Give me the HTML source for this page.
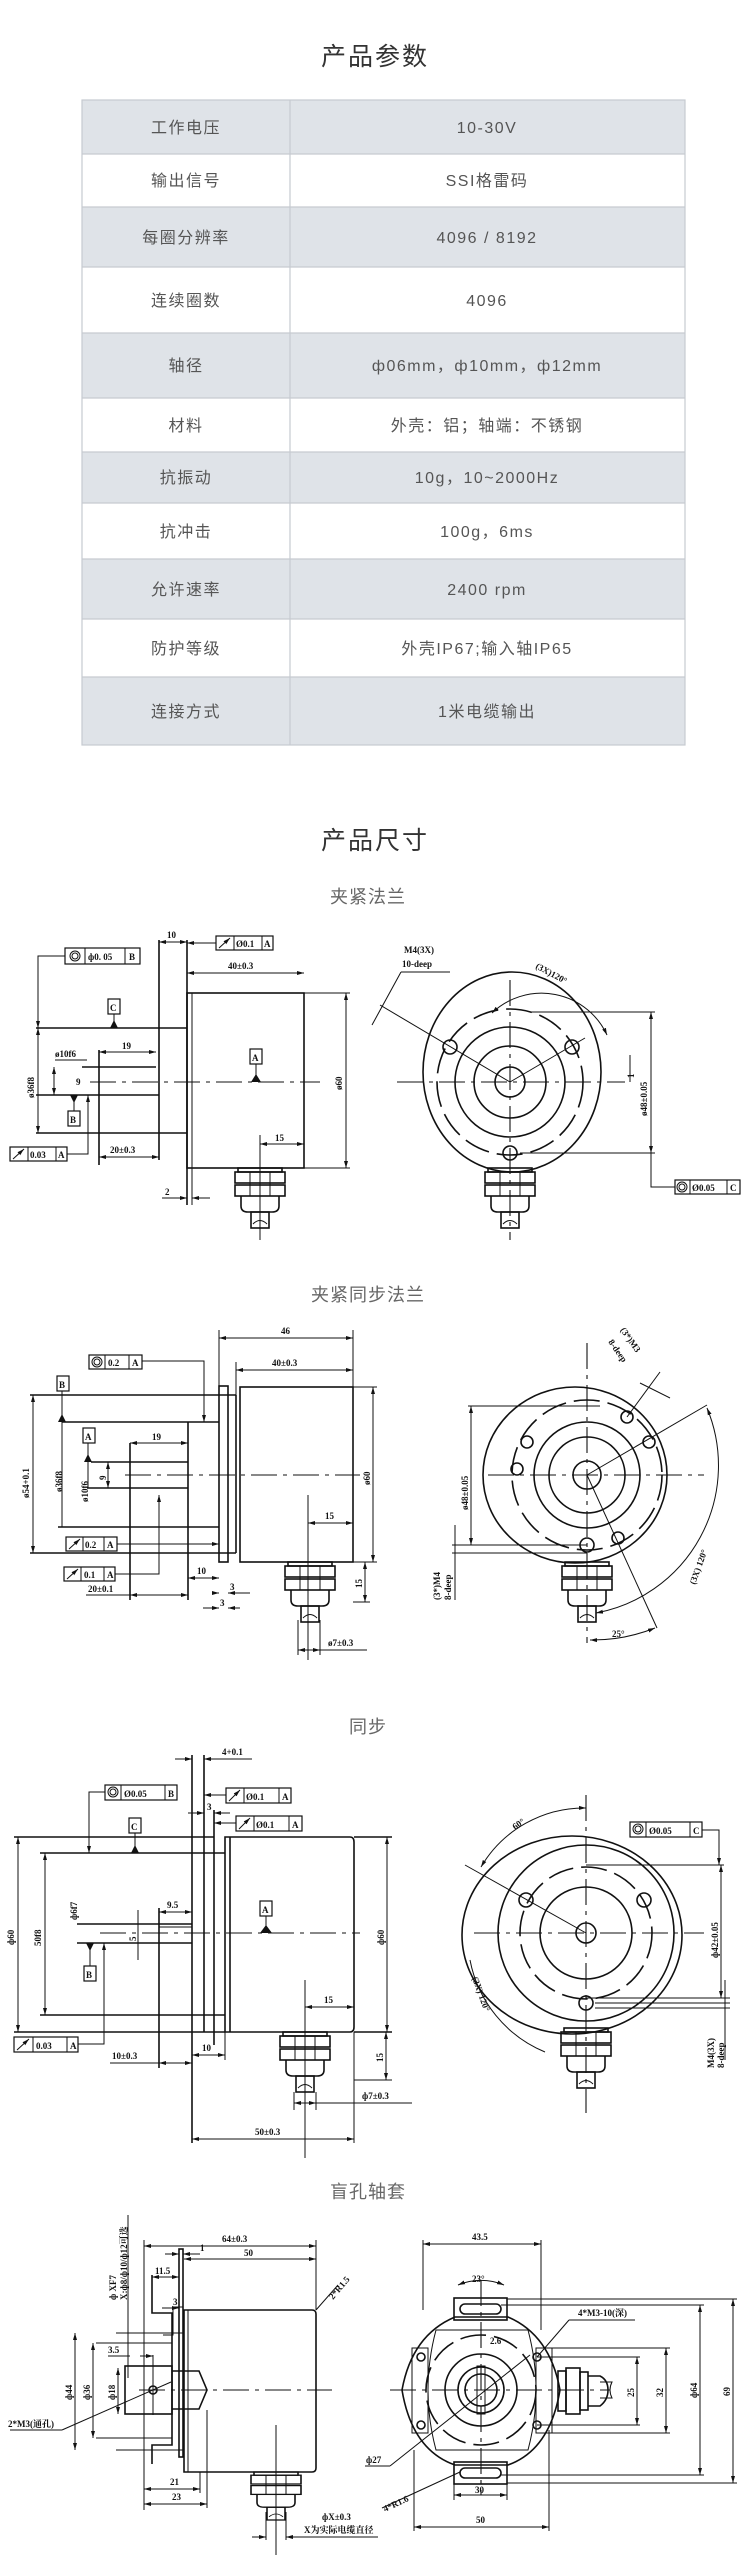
<!DOCTYPE html>
<html><head><meta charset="utf-8">
<style>
html,body{margin:0;padding:0;background:#fff;}
svg{display:block;}
.l{stroke:#111;stroke-width:1.6;fill:none;}
.t{stroke:#111;stroke-width:1;fill:none;}
.c{stroke:#111;stroke-width:1.1;fill:none;stroke-dasharray:26 6 4 6;}
.dsh{stroke:#111;stroke-width:1.6;fill:none;stroke-dasharray:26 8;}
.dm{stroke:#111;stroke-width:1;fill:none;marker-start:url(#a);marker-end:url(#a);}
.ar{stroke:#111;stroke-width:1;fill:none;marker-end:url(#a);}
.tx{font-family:"Liberation Serif","Noto Serif CJK SC",serif;font-size:9px;font-weight:bold;fill:#111;}
.tb{font-family:"Liberation Sans","Noto Sans CJK SC",sans-serif;font-size:16px;fill:#555;text-anchor:middle;letter-spacing:1.5px;}
.ttl{font-family:"Liberation Sans","Noto Sans CJK SC",sans-serif;font-size:25px;fill:#333;text-anchor:middle;letter-spacing:2px;}
.sub{font-family:"Liberation Sans","Noto Sans CJK SC",sans-serif;font-size:18px;fill:#666;text-anchor:middle;letter-spacing:1px;}
.fr{fill:#fff;stroke:#111;stroke-width:1.2;}
</style></head><body>
<svg width="750" height="2567" viewBox="0 0 750 2567" xmlns="http://www.w3.org/2000/svg">
<defs>
<marker id="a" markerWidth="7" markerHeight="6" refX="7" refY="3" orient="auto-start-reverse" markerUnits="userSpaceOnUse"><path d="M0,1 L7,3 L0,5z" fill="#111"/></marker>
<g id="gl">
<rect x="-22" y="0" width="44" height="4" class="l"/>
<rect x="-25" y="4" width="50" height="11" class="l"/>
<rect x="-25" y="17" width="50" height="11" class="l"/>
<line x1="-10" y1="4" x2="-10" y2="28" class="t"/><line x1="10" y1="4" x2="10" y2="28" class="t"/>
<path d="M-19 28 V38 Q-19 44 -12 44 H12 Q19 44 19 38 V28" class="l"/>
<rect x="-9" y="44" width="18" height="16" class="l"/>
<path d="M-7 56 Q0 49 7 56" class="t"/>
</g>
</defs>

<!-- ===== Title & Table ===== -->
<text x="375" y="65" class="ttl">产品参数</text>
<rect x="82" y="100" width="603" height="54" fill="#dfe3e8"/>
<rect x="82" y="207" width="603" height="60" fill="#dfe3e8"/>
<rect x="82" y="333" width="603" height="65" fill="#dfe3e8"/>
<rect x="82" y="452" width="603" height="51" fill="#dfe3e8"/>
<rect x="82" y="559" width="603" height="60" fill="#dfe3e8"/>
<rect x="82" y="677" width="603" height="68" fill="#dfe3e8"/>
<g stroke="#c6cad0" stroke-width="1.2" fill="none">
<rect x="82" y="100" width="603" height="645"/>
<line x1="290" y1="100" x2="290" y2="745"/>
<line x1="82" y1="154" x2="685" y2="154"/><line x1="82" y1="207" x2="685" y2="207"/>
<line x1="82" y1="267" x2="685" y2="267"/><line x1="82" y1="333" x2="685" y2="333"/>
<line x1="82" y1="398" x2="685" y2="398"/><line x1="82" y1="452" x2="685" y2="452"/>
<line x1="82" y1="503" x2="685" y2="503"/><line x1="82" y1="559" x2="685" y2="559"/>
<line x1="82" y1="619" x2="685" y2="619"/><line x1="82" y1="677" x2="685" y2="677"/>
</g>
<g class="tb">
<text x="186" y="133">工作电压</text><text x="487" y="133">10-30V</text>
<text x="186" y="186">输出信号</text><text x="487" y="186">SSI格雷码</text>
<text x="186" y="243">每圈分辨率</text><text x="487" y="243">4096 / 8192</text>
<text x="186" y="306">连续圈数</text><text x="487" y="306">4096</text>
<text x="186" y="371">轴径</text><text x="487" y="371">ф06mm，ф10mm，ф12mm</text>
<text x="186" y="431">材料</text><text x="487" y="431">外壳：铝；轴端：不锈钢</text>
<text x="186" y="483">抗振动</text><text x="487" y="483">10g，10~2000Hz</text>
<text x="186" y="537">抗冲击</text><text x="487" y="537">100g，6ms</text>
<text x="186" y="595">允许速率</text><text x="487" y="595">2400 rpm</text>
<text x="186" y="654">防护等级</text><text x="487" y="654">外壳IP67;输入轴IP65</text>
<text x="186" y="717">连接方式</text><text x="487" y="717">1米电缆输出</text>
</g>

<text x="375" y="849" class="ttl">产品尺寸</text>

<!-- ===== Section 1: 夹紧法兰 ===== -->
<text x="368" y="903" class="sub">夹紧法兰</text>
<g>
<rect x="187" y="993" width="117" height="175" class="l"/>
<line x1="192" y1="993" x2="192" y2="1168" class="t"/>
<line x1="187" y1="940" x2="187" y2="1205" class="l"/>
<line x1="192" y1="1168" x2="192" y2="1205" class="t"/>
<line x1="36" y1="1028" x2="187" y2="1028" class="l"/>
<line x1="36" y1="1133" x2="187" y2="1133" class="l"/>
<line x1="159" y1="940" x2="159" y2="1160" class="l"/>
<line x1="82" y1="1067" x2="156" y2="1067" class="l"/>
<line x1="36" y1="1095" x2="159" y2="1095" class="l"/>
<line x1="99" y1="1050" x2="99" y2="1165" class="l"/>
<line x1="90" y1="1082" x2="320" y2="1082" class="c"/>
<line x1="38" y1="1028" x2="38" y2="1133" class="dm"/>
<text transform="translate(34,1098) rotate(-90)" class="tx">ø36f8</text>
<line x1="55" y1="1060" x2="87" y2="1060" class="t"/><text x="55" y="1057" class="tx" font-size="8">ø10f6</text>
<line x1="54" y1="1067" x2="54" y2="1095" class="dm"/><text x="76" y="1085" class="tx">9</text>
<line x1="99" y1="1052" x2="156" y2="1052" class="dm"/><text x="122" y="1049" class="tx">19</text>
<line x1="187" y1="973" x2="304" y2="973" class="dm"/><text x="228" y="969" class="tx">40±0.3</text>
<line x1="304" y1="993" x2="350" y2="993" class="t"/><line x1="304" y1="1168" x2="350" y2="1168" class="t"/>
<line x1="346" y1="993" x2="346" y2="1168" class="dm"/><text transform="translate(342,1090) rotate(-90)" class="tx">ø60</text>
<line x1="159" y1="942" x2="187" y2="942" class="dm"/><text x="167" y="938" class="tx">10</text>
<line x1="99" y1="1157" x2="159" y2="1157" class="dm"/><text x="110" y="1153" class="tx">20±0.3</text>
<line x1="162" y1="1198" x2="187" y2="1198" class="ar"/><line x1="210" y1="1198" x2="192" y2="1198" class="ar"/><text x="165" y="1195" class="tx" font-size="11">2</text>
<line x1="260" y1="1144" x2="304" y2="1144" class="dm"/><text x="275" y="1141" class="tx" font-size="14">15</text>
<line x1="260" y1="1135" x2="260" y2="1240" class="t"/>
<use href="#gl" transform="translate(260,1168)"/>
<rect x="108" y="999" width="12" height="15" class="fr"/><text x="110" y="1011" class="tx">C</text>
<line x1="114" y1="1014" x2="114" y2="1028" class="t"/><path d="M110 1028 L118 1028 L114 1020z" fill="#111"/>
<rect x="250" y="1049" width="12" height="15" class="fr"/><text x="252" y="1061" class="tx">A</text>
<line x1="256" y1="1064" x2="256" y2="1082" class="t"/><path d="M251 1082 L261 1082 L256 1074z" fill="#111"/>
<rect x="68" y="1111" width="12" height="15" class="fr"/><text x="70" y="1123" class="tx">B</text>
<line x1="74" y1="1095" x2="74" y2="1111" class="t"/><path d="M70 1095 L78 1095 L74 1103z" fill="#111"/>
<rect x="65" y="948" width="75" height="16" class="fr"/><line x1="85" y1="948" x2="85" y2="964" class="t"/><line x1="125" y1="948" x2="125" y2="964" class="t"/>
<circle cx="75" cy="956" r="5" class="t"/><circle cx="75" cy="956" r="3" class="t"/><text x="88" y="960" class="tx">ф0. 05</text><text x="129" y="960" class="tx">B</text>
<path d="M65 956 H38 V1028" class="ar"/>
<rect x="216" y="936" width="57" height="14" class="fr"/><line x1="234" y1="936" x2="234" y2="950" class="t"/><line x1="262" y1="936" x2="262" y2="950" class="t"/>
<line x1="219" y1="948" x2="230" y2="938" class="ar"/><text x="236" y="947" class="tx">Ø0.1</text><text x="264" y="947" class="tx">A</text>
<line x1="216" y1="943" x2="187" y2="943" class="ar"/>
<rect x="10" y="1147" width="57" height="14" class="fr"/><line x1="28" y1="1147" x2="28" y2="1161" class="t"/><line x1="56" y1="1147" x2="56" y2="1161" class="t"/>
<line x1="13" y1="1159" x2="24" y2="1149" class="ar"/><text x="30" y="1158" class="tx">0.03</text><text x="58" y="1158" class="tx">A</text>
<path d="M67 1154 H88 V1095" class="ar"/>
</g>
<g>
<ellipse cx="512" cy="1072" rx="89" ry="100" class="l"/>
<circle cx="510" cy="1082" r="73" class="dsh"/>
<circle cx="510" cy="1082" r="55" class="l"/>
<circle cx="510" cy="1082" r="36" class="l"/>
<circle cx="510" cy="1082" r="15" class="l"/>
<line x1="397" y1="1082" x2="625" y2="1082" class="c"/>
<line x1="510" y1="980" x2="510" y2="1240" class="c"/>
<circle cx="450" cy="1047" r="7" class="l"/><circle cx="572" cy="1047" r="7" class="l"/><circle cx="510" cy="1153" r="7" class="l"/>
<line x1="510" y1="1082" x2="380" y2="1005" class="t"/><line x1="510" y1="1082" x2="585" y2="1038" class="t"/>
<line x1="372" y1="1025" x2="401" y2="972" class="t"/><line x1="401" y1="972" x2="450" y2="972" class="t"/>
<text x="404" y="953" class="tx">M4(3X)</text><text x="402" y="967" class="tx">10-deep</text>
<path d="M492 1013 A 72 72 0 0 1 607 1035" class="dm"/>
<text transform="translate(535,968) rotate(28)" class="tx">(3X)120°</text>
<line x1="530" y1="1012" x2="655" y2="1012" class="t"/><line x1="520" y1="1153" x2="655" y2="1153" class="t"/>
<line x1="651" y1="1012" x2="651" y2="1153" class="dm"/>
<text transform="translate(647,1116) rotate(-90)" class="tx">ø48±0.05</text>
<line x1="630" y1="1055" x2="630" y2="1082" class="t"/><text transform="translate(634,1078) rotate(-90)" class="tx">1</text>
<path d="M651 1153 V1187 H675" class="t"/>
<rect x="675" y="1180" width="65" height="14" class="fr"/><line x1="690" y1="1180" x2="690" y2="1194" class="t"/><line x1="727" y1="1180" x2="727" y2="1194" class="t"/>
<circle cx="682" cy="1187" r="5" class="t"/><circle cx="682" cy="1187" r="3" class="t"/><text x="692" y="1191" class="tx">Ø0.05</text><text x="730" y="1191" class="tx">C</text>
<use href="#gl" transform="translate(510,1168)"/>
</g>

<!-- ===== Section 2 ===== -->
<text x="368" y="1301" class="sub">夹紧同步法兰</text>
<g>
<rect x="219" y="1386" width="9" height="176" class="l"/>
<rect x="240" y="1387" width="113" height="175" class="l"/>
<line x1="236" y1="1395" x2="236" y2="1553" class="l"/>
<line x1="219" y1="1330" x2="219" y2="1386" class="t"/><line x1="236" y1="1362" x2="236" y2="1395" class="t"/>
<line x1="353" y1="1330" x2="353" y2="1387" class="t"/>
<line x1="30" y1="1395" x2="236" y2="1395" class="l"/><line x1="30" y1="1553" x2="236" y2="1553" class="l"/>
<line x1="62" y1="1422" x2="219" y2="1422" class="l"/><line x1="58" y1="1527" x2="219" y2="1527" class="l"/>
<line x1="188" y1="1422" x2="188" y2="1600" class="l"/>
<line x1="91" y1="1462" x2="188" y2="1462" class="l"/><line x1="87" y1="1488" x2="188" y2="1488" class="l"/>
<line x1="130" y1="1443" x2="130" y2="1600" class="l"/>
<line x1="125" y1="1475" x2="360" y2="1475" class="c"/>
<line x1="33" y1="1395" x2="33" y2="1553" class="dm"/><text transform="translate(29,1498) rotate(-90)" class="tx" font-size="10">ø54+0.1</text>
<line x1="62" y1="1422" x2="62" y2="1527" class="t"/><text transform="translate(62,1492) rotate(-90)" class="tx" font-size="10">ø36f8</text>
<line x1="88" y1="1462" x2="88" y2="1488" class="t"/><text transform="translate(88,1502) rotate(-90)" class="tx" font-size="10">ø10f6</text>
<line x1="108" y1="1462" x2="108" y2="1488" class="dm"/><text transform="translate(106,1480) rotate(-90)" class="tx">9</text>
<line x1="130" y1="1443" x2="188" y2="1443" class="dm"/><text x="152" y="1440" class="tx">19</text>
<line x1="219" y1="1338" x2="353" y2="1338" class="dm"/><text x="281" y="1334" class="tx">46</text>
<line x1="236" y1="1370" x2="353" y2="1370" class="dm"/><text x="272" y="1366" class="tx">40±0.3</text>
<line x1="353" y1="1387" x2="377" y2="1387" class="t"/><line x1="353" y1="1562" x2="377" y2="1562" class="t"/>
<line x1="373" y1="1387" x2="373" y2="1562" class="dm"/><text transform="translate(370,1485) rotate(-90)" class="tx">ø60</text>
<line x1="308" y1="1495" x2="308" y2="1660" class="t"/>
<line x1="308" y1="1523" x2="353" y2="1523" class="dm"/><text x="325" y="1519" class="tx">15</text>
<line x1="188" y1="1578" x2="219" y2="1578" class="dm"/><text x="197" y="1574" class="tx">10</text>
<line x1="130" y1="1595" x2="188" y2="1595" class="dm"/><line x1="86" y1="1595" x2="130" y2="1595" class="t"/><text x="88" y="1592" class="tx">20±0.1</text>
<line x1="212" y1="1593" x2="219" y2="1593" class="ar"/><line x1="250" y1="1593" x2="228" y2="1593" class="ar"/><text x="230" y="1590" class="tx">3</text>
<line x1="203" y1="1608" x2="219" y2="1608" class="ar"/><line x1="240" y1="1608" x2="228" y2="1608" class="ar"/><text x="220" y="1606" class="tx">3</text>
<use href="#gl" transform="translate(310,1562)"/>
<line x1="298" y1="1620" x2="298" y2="1655" class="t"/><line x1="320" y1="1620" x2="320" y2="1655" class="t"/>
<line x1="298" y1="1650" x2="320" y2="1650" class="dm"/><line x1="320" y1="1650" x2="367" y2="1650" class="t"/><text x="328" y="1646" class="tx">ø7±0.3</text>
<line x1="353" y1="1602" x2="370" y2="1602" class="t"/>
<line x1="365" y1="1562" x2="365" y2="1602" class="dm"/><text transform="translate(362,1588) rotate(-90)" class="tx">15</text>
<rect x="89" y="1355" width="53" height="14" class="fr"/><line x1="105" y1="1355" x2="105" y2="1369" class="t"/><line x1="129" y1="1355" x2="129" y2="1369" class="t"/>
<circle cx="97" cy="1362" r="5" class="t"/><circle cx="97" cy="1362" r="3" class="t"/><text x="108" y="1366" class="tx">0.2</text><text x="132" y="1366" class="tx">A</text>
<path d="M142 1361 H204 V1422" class="ar"/>
<rect x="57" y="1376" width="12" height="15" class="fr"/><text x="59" y="1388" class="tx">B</text>
<line x1="62" y1="1391" x2="62" y2="1422" class="t"/><path d="M58 1422 L66 1422 L62 1414z" fill="#111"/>
<rect x="83" y="1428" width="12" height="15" class="fr"/><text x="85" y="1440" class="tx">A</text>
<line x1="88" y1="1443" x2="88" y2="1462" class="t"/><path d="M84 1462 L92 1462 L88 1454z" fill="#111"/>
<rect x="66" y="1537" width="51" height="14" class="fr"/><line x1="83" y1="1537" x2="83" y2="1551" class="t"/><line x1="104" y1="1537" x2="104" y2="1551" class="t"/>
<line x1="69" y1="1549" x2="80" y2="1539" class="ar"/><text x="85" y="1548" class="tx">0.2</text><text x="107" y="1548" class="tx">A</text>
<line x1="117" y1="1544" x2="219" y2="1544" class="ar"/>
<rect x="64" y="1567" width="51" height="14" class="fr"/><line x1="81" y1="1567" x2="81" y2="1581" class="t"/><line x1="104" y1="1567" x2="104" y2="1581" class="t"/>
<line x1="67" y1="1579" x2="78" y2="1569" class="ar"/><text x="84" y="1578" class="tx">0.1</text><text x="107" y="1578" class="tx">A</text>
<path d="M115 1574 H159 V1495" class="ar"/>
</g>
<g>
<ellipse cx="575" cy="1475" rx="92" ry="88" class="l"/>
<circle cx="587" cy="1475" r="75" class="dsh"/>
<circle cx="587" cy="1475" r="53" class="l"/>
<circle cx="587" cy="1475" r="38" class="l"/>
<circle cx="587" cy="1475" r="14" class="l"/>
<line x1="488" y1="1475" x2="704" y2="1475" class="c"/>
<line x1="587" y1="1343" x2="587" y2="1643" class="c"/>
<circle cx="627" cy="1417" r="6" class="l"/><circle cx="649" cy="1442" r="6" class="l"/><circle cx="527" cy="1442" r="6" class="l"/>
<circle cx="517" cy="1469" r="6" class="l"/><circle cx="587" cy="1545" r="7" class="l"/><circle cx="618" cy="1538" r="6" class="l"/>
<line x1="587" y1="1475" x2="707" y2="1405" class="t"/><line x1="587" y1="1475" x2="657" y2="1628" class="t"/>
<path d="M707 1408 A 150 150 0 0 1 596 1613" class="dm"/>
<text transform="translate(695,1585) rotate(-70)" class="tx">(3X) 120°</text>
<path d="M590 1640 A 170 170 0 0 0 655 1628" class="dm"/><text x="612" y="1637" class="tx">25°</text>
<line x1="627" y1="1417" x2="660" y2="1372" class="t"/><line x1="640" y1="1383" x2="670" y2="1398" class="t"/>
<text transform="translate(620,1330) rotate(55)" class="tx">(3*)M3</text>
<text transform="translate(608,1342) rotate(55)" class="tx">8-deep</text>
<line x1="468" y1="1406" x2="600" y2="1406" class="t"/><line x1="452" y1="1545" x2="587" y2="1545" class="t"/><line x1="452" y1="1553" x2="587" y2="1553" class="t"/>
<line x1="471" y1="1406" x2="471" y2="1545" class="dm"/><text transform="translate(468,1510) rotate(-90)" class="tx">ø48±0.05</text>
<line x1="455" y1="1525" x2="455" y2="1600" class="t"/>
<text transform="translate(440,1600) rotate(-90)" class="tx">(3*)M4</text>
<text transform="translate(451,1600) rotate(-90)" class="tx">8-deep</text>
<use href="#gl" transform="translate(587,1562)"/>
</g>

<!-- ===== Section 3 ===== -->
<text x="368" y="1733" class="sub">同步</text>
<g>
<path d="M225 1837 H350 Q354 1837 354 1842 V2027 Q354 2032 350 2032 H225 Z" class="l"/>
<line x1="230" y1="1837" x2="230" y2="2032" class="l"/>
<line x1="192" y1="1755" x2="192" y2="2143" class="l"/>
<line x1="204" y1="1755" x2="204" y2="2032" class="l"/>
<line x1="214" y1="1810" x2="214" y2="2045" class="l"/>
<line x1="14" y1="1837" x2="214" y2="1837" class="l"/><line x1="14" y1="2032" x2="225" y2="2032" class="l"/>
<line x1="354" y1="1837" x2="392" y2="1837" class="l"/><line x1="354" y1="2032" x2="392" y2="2032" class="l"/>
<line x1="40" y1="1853" x2="225" y2="1853" class="l"/><line x1="40" y1="2015" x2="225" y2="2015" class="l"/>
<line x1="77" y1="1924" x2="192" y2="1924" class="l"/><line x1="77" y1="1943" x2="192" y2="1943" class="l"/>
<line x1="159" y1="1908" x2="159" y2="2068" class="l"/>
<line x1="159" y1="1927" x2="192" y2="1927" class="t"/>
<line x1="100" y1="1933" x2="360" y2="1933" class="c"/>
<line x1="18" y1="1837" x2="18" y2="2032" class="dm"/><text transform="translate(14,1945) rotate(-90)" class="tx">ф60</text>
<line x1="45" y1="1853" x2="45" y2="2015" class="dm"/><text transform="translate(41,1946) rotate(-90)" class="tx">50f8</text>
<text transform="translate(77,1920) rotate(-90)" class="tx">ф6f7</text>
<line x1="138" y1="1910" x2="138" y2="1960" class="t"/><text transform="translate(136,1941) rotate(-90)" class="tx">5</text>
<line x1="159" y1="1912" x2="192" y2="1912" class="dm"/><text x="167" y="1908" class="tx">9.5</text>
<line x1="387" y1="1837" x2="387" y2="2032" class="dm"/><text transform="translate(384,1945) rotate(-90)" class="tx">ф60</text>
<line x1="175" y1="1759" x2="192" y2="1759" class="ar"/><line x1="230" y1="1759" x2="204" y2="1759" class="ar"/><line x1="204" y1="1759" x2="252" y2="1759" class="t"/><text x="222" y="1755" class="tx">4+0.1</text>
<line x1="188" y1="1813" x2="204" y2="1813" class="ar"/><line x1="230" y1="1813" x2="214" y2="1813" class="ar"/><text x="207" y="1810" class="tx">3</text>
<line x1="305" y1="1980" x2="305" y2="2158" class="t"/>
<line x1="305" y1="2007" x2="354" y2="2007" class="dm"/><text x="324" y="2003" class="tx">15</text>
<line x1="192" y1="2055" x2="225" y2="2055" class="dm"/><line x1="225" y1="2032" x2="225" y2="2060" class="t"/><text x="202" y="2051" class="tx">10</text>
<line x1="159" y1="2063" x2="192" y2="2063" class="dm"/><line x1="110" y1="2063" x2="159" y2="2063" class="t"/><text x="112" y="2059" class="tx" font-size="10">10±0.3</text>
<line x1="192" y1="2139" x2="354" y2="2139" class="dm"/><line x1="354" y1="2032" x2="354" y2="2143" class="t"/><text x="255" y="2135" class="tx">50±0.3</text>
<use href="#gl" transform="translate(305,2032)"/>
<line x1="294" y1="2092" x2="294" y2="2110" class="t"/><line x1="316" y1="2092" x2="316" y2="2110" class="t"/>
<line x1="294" y1="2103" x2="316" y2="2103" class="dm"/><line x1="316" y1="2103" x2="412" y2="2103" class="t"/><text x="362" y="2099" class="tx" font-size="11">ф7±0.3</text>
<line x1="354" y1="2080" x2="392" y2="2080" class="t"/>
<line x1="386" y1="2032" x2="386" y2="2080" class="dm"/><text transform="translate(383,2062) rotate(-90)" class="tx">15</text>
<rect x="105" y="1785" width="72" height="15" class="fr"/><line x1="121" y1="1785" x2="121" y2="1800" class="t"/><line x1="165" y1="1785" x2="165" y2="1800" class="t"/>
<circle cx="113" cy="1792" r="5" class="t"/><circle cx="113" cy="1792" r="3" class="t"/><text x="124" y="1797" class="tx">Ø0.05</text><text x="168" y="1797" class="tx">B</text>
<path d="M105 1792 H89 V1853" class="ar"/>
<rect x="226" y="1788" width="65" height="15" class="fr"/><line x1="244" y1="1788" x2="244" y2="1803" class="t"/><line x1="279" y1="1788" x2="279" y2="1803" class="t"/>
<line x1="229" y1="1801" x2="240" y2="1790" class="ar"/><text x="246" y="1800" class="tx">Ø0.1</text><text x="282" y="1800" class="tx">A</text>
<line x1="226" y1="1795" x2="204" y2="1795" class="ar"/>
<rect x="236" y="1816" width="66" height="15" class="fr"/><line x1="254" y1="1816" x2="254" y2="1831" class="t"/><line x1="289" y1="1816" x2="289" y2="1831" class="t"/>
<line x1="239" y1="1829" x2="250" y2="1818" class="ar"/><text x="256" y="1828" class="tx">Ø0.1</text><text x="292" y="1828" class="tx">A</text>
<line x1="236" y1="1823" x2="214" y2="1823" class="ar"/>
<rect x="129" y="1818" width="12" height="15" class="fr"/><text x="131" y="1830" class="tx">C</text>
<line x1="135" y1="1833" x2="135" y2="1853" class="t"/><path d="M131 1853 L139 1853 L135 1845z" fill="#111"/>
<rect x="260" y="1901" width="12" height="15" class="fr"/><text x="262" y="1913" class="tx">A</text>
<line x1="266" y1="1916" x2="266" y2="1933" class="t"/><path d="M260 1933 L272 1933 L266 1925z" fill="#111"/>
<rect x="84" y="1966" width="12" height="15" class="fr"/><text x="86" y="1978" class="tx">B</text>
<line x1="90" y1="1943" x2="90" y2="1966" class="t"/><path d="M86 1943 L94 1943 L90 1951z" fill="#111"/>
<rect x="14" y="2037" width="64" height="15" class="fr"/><line x1="33" y1="2037" x2="33" y2="2052" class="t"/><line x1="67" y1="2037" x2="67" y2="2052" class="t"/>
<line x1="17" y1="2050" x2="29" y2="2039" class="ar"/><text x="36" y="2049" class="tx">0.03</text><text x="70" y="2049" class="tx">A</text>
<path d="M78 2044 H104 V1943" class="ar"/>
</g>
<g>
<ellipse cx="572" cy="1935" rx="110" ry="99" class="l"/>
<circle cx="586" cy="1933" r="88" class="l"/>
<circle cx="586" cy="1933" r="66" class="dsh"/>
<circle cx="586" cy="1933" r="46" class="l"/>
<circle cx="586" cy="1933" r="10" class="l"/>
<line x1="474" y1="1933" x2="704" y2="1933" class="c"/>
<line x1="586" y1="1795" x2="586" y2="2113" class="c"/>
<circle cx="526" cy="1900" r="7" class="l"/><circle cx="644" cy="1900" r="7" class="l"/><circle cx="586" cy="2003" r="7" class="l"/>
<line x1="586" y1="1933" x2="465" y2="1865" class="t"/>
<path d="M481 1867 A 120 120 0 0 1 586 1808" class="dm"/><text transform="translate(515,1830) rotate(-35)" class="tx">60°</text>
<path d="M470 1960 A 125 125 0 0 0 545 2052" class="t"/>
<text transform="translate(472,1978) rotate(70)" class="tx">(3X) 120°</text>
<rect x="630" y="1822" width="72" height="15" class="fr"/><line x1="646" y1="1822" x2="646" y2="1837" class="t"/><line x1="690" y1="1822" x2="690" y2="1837" class="t"/>
<circle cx="638" cy="1829" r="5" class="t"/><circle cx="638" cy="1829" r="3" class="t"/><text x="649" y="1834" class="tx">Ø0.05</text><text x="693" y="1834" class="tx">C</text>
<path d="M702 1830 H719 V1865" class="ar"/>
<line x1="586" y1="1865" x2="724" y2="1865" class="t"/><line x1="586" y1="1998" x2="730" y2="1998" class="t"/>
<line x1="595" y1="2003" x2="730" y2="2003" class="t"/><line x1="595" y1="2008" x2="730" y2="2008" class="t"/>
<line x1="721" y1="1865" x2="721" y2="1998" class="dm"/><text transform="translate(718,1958) rotate(-90)" class="tx">ф42±0.05</text>
<line x1="725" y1="1980" x2="725" y2="2060" class="t"/>
<text transform="translate(714,2068) rotate(-90)" class="tx">M4(3X)</text>
<text transform="translate(724,2068) rotate(-90)" class="tx">8-deep</text>
<use href="#gl" transform="translate(586,2028)"/>
</g>

<!-- ===== Section 4 ===== -->
<text x="368" y="2198" class="sub">盲孔轴套</text>
<g>
<path d="M184 2310 H312 Q316 2310 316 2314 V2468 Q316 2472 312 2472 H184 Z" class="l"/>
<line x1="188" y1="2310" x2="188" y2="2472" class="t"/>
<rect x="179" y="2249" width="4" height="208" class="l"/>
<path d="M183 2307 H173 V2335 H163" class="t"/>
<path d="M152 2275 V2313 H172 V2327" class="l"/>
<path d="M152 2464 V2445 H172 V2440" class="l"/>
<line x1="172" y1="2327" x2="172" y2="2440" class="l"/>
<line x1="144" y1="2240" x2="144" y2="2510" class="t"/>
<line x1="128" y1="2215" x2="128" y2="2378" class="t"/>
<rect x="125" y="2366" width="47" height="48" class="l"/>
<path d="M172 2371 H199 L207 2390 L199 2409 H172" class="l"/>
<line x1="116" y1="2333" x2="183" y2="2333" class="t"/><line x1="116" y1="2450" x2="183" y2="2450" class="t"/>
<line x1="96" y1="2343" x2="172" y2="2343" class="t"/><line x1="96" y1="2438" x2="172" y2="2438" class="t"/>
<line x1="75" y1="2333" x2="75" y2="2450" class="dm"/><text transform="translate(72,2400) rotate(-90)" class="tx">ф44</text>
<line x1="93" y1="2343" x2="93" y2="2438" class="dm"/><text transform="translate(90,2400) rotate(-90)" class="tx">ф36</text>
<line x1="118" y1="2368" x2="118" y2="2414" class="dm"/><text transform="translate(115,2400) rotate(-90)" class="tx">ф18</text>
<line x1="139" y1="2390" x2="332" y2="2390" class="c"/>
<circle cx="153" cy="2390" r="4" class="l"/><line x1="153" y1="2355" x2="153" y2="2415" class="t"/>
<line x1="171" y1="2382" x2="62" y2="2430" class="t"/><line x1="10" y1="2430" x2="62" y2="2430" class="t"/>
<text x="8" y="2427" class="tx" font-size="10">2*M3(通孔)</text>
<line x1="144" y1="2246" x2="316" y2="2246" class="dm"/><line x1="316" y1="2240" x2="316" y2="2310" class="t"/><text x="222" y="2242" class="tx">64±0.3</text>
<line x1="184" y1="2259" x2="316" y2="2259" class="dm"/><text x="244" y="2256" class="tx">50</text>
<line x1="165" y1="2254" x2="179" y2="2254" class="ar"/><line x1="200" y1="2254" x2="183" y2="2254" class="ar"/><text x="200" y="2251" class="tx">1</text>
<line x1="152" y1="2277" x2="179" y2="2277" class="dm"/><text x="155" y="2274" class="tx">11.5</text>
<line x1="162" y1="2308" x2="179" y2="2308" class="ar"/><text x="173" y="2305" class="tx">3</text>
<line x1="108" y1="2356" x2="130" y2="2356" class="t"/><line x1="140" y1="2356" x2="153" y2="2356" class="ar"/><text x="108" y="2353" class="tx">3.5</text>
<line x1="144" y1="2489" x2="200" y2="2489" class="dm"/><line x1="200" y1="2472" x2="200" y2="2493" class="t"/><text x="170" y="2485" class="tx">21</text>
<line x1="144" y1="2504" x2="207" y2="2504" class="dm"/><line x1="207" y1="2410" x2="207" y2="2508" class="t"/><text x="172" y="2500" class="tx">23</text>
<text transform="translate(116,2300) rotate(-90)" class="tx">ф XF7</text>
<text transform="translate(127,2300) rotate(-90)" class="tx">X:ф8/ф10/ф12可选</text>
<line x1="316" y1="2310" x2="338" y2="2285" class="t"/>
<text transform="translate(333,2300) rotate(-50)" class="tx">2*R1.5</text>
<line x1="276" y1="2425" x2="276" y2="2555" class="t"/>
<g transform="translate(276,2472) scale(1,0.8)"><use href="#gl"/></g>
<line x1="266" y1="2512" x2="266" y2="2540" class="t"/><line x1="286" y1="2512" x2="286" y2="2540" class="t"/>
<line x1="252" y1="2537" x2="266" y2="2537" class="ar"/><line x1="300" y1="2537" x2="286" y2="2537" class="ar"/><line x1="300" y1="2537" x2="378" y2="2537" class="t"/>
<text x="322" y="2520" class="tx">фX±0.3</text>
<text x="304" y="2533" class="tx">X为实际电缆直径</text>
</g>
<g>
<path d="M455 2317 Q412 2335 402 2390 Q412 2450 455 2465 H508 Q550 2450 560 2390 Q550 2335 508 2317 Z" class="l"/>
<rect x="454" y="2298" width="53" height="22" class="l"/>
<rect x="454" y="2462" width="53" height="22" class="l"/>
<rect x="460" y="2304" width="41" height="10" rx="5" class="l"/>
<rect x="460" y="2468" width="41" height="10" rx="5" class="l"/>
<path d="M436 2330 Q420 2390 436 2450 H528 Q544 2390 528 2330 Z" class="t"/>
<rect x="412" y="2348" width="16" height="85" class="t"/><rect x="536" y="2348" width="16" height="85" class="t"/>
<circle cx="481" cy="2390" r="55" class="dsh"/>
<circle cx="481" cy="2390" r="36" class="l"/>
<circle cx="481" cy="2390" r="23" class="l"/>
<circle cx="481" cy="2390" r="16" class="l"/>
<rect x="477" y="2366" width="8" height="48" class="t"/>
<circle cx="421" cy="2357" r="4" class="l"/><circle cx="537" cy="2357" r="4" class="l"/>
<circle cx="421" cy="2425" r="4" class="l"/><circle cx="537" cy="2425" r="4" class="l"/>
<rect x="558" y="2371" width="8" height="40" class="l"/><rect x="566" y="2368" width="14" height="46" class="l"/><rect x="580" y="2372" width="8" height="38" class="l"/>
<path d="M588 2376 H600 Q608 2380 608 2390 Q608 2400 600 2406 H588" class="l"/>
<path d="M600 2382 H612 Q608 2390 612 2398 H600" class="t"/>
<line x1="390" y1="2390" x2="610" y2="2390" class="c"/>
<line x1="481" y1="2280" x2="481" y2="2495" class="c"/>
<line x1="423" y1="2240" x2="423" y2="2310" class="t"/><line x1="541" y1="2240" x2="541" y2="2330" class="t"/>
<line x1="423" y1="2244" x2="541" y2="2244" class="dm"/><text x="472" y="2240" class="tx">43.5</text>
<line x1="414" y1="2450" x2="414" y2="2531" class="t"/><line x1="549" y1="2430" x2="549" y2="2531" class="t"/>
<line x1="414" y1="2527" x2="549" y2="2527" class="dm"/><text x="476" y="2523" class="tx">50</text>
<line x1="454" y1="2484" x2="454" y2="2500" class="t"/><line x1="507" y1="2484" x2="507" y2="2500" class="t"/>
<line x1="454" y1="2495" x2="507" y2="2495" class="dm"/><text x="475" y="2493" class="tx">30</text>
<path d="M458 2285 A 60 60 0 0 1 504 2285" class="dm"/><text x="472" y="2282" class="tx">23°</text>
<text x="490" y="2344" class="tx">2.6</text>
<line x1="537" y1="2357" x2="640" y2="2357" class="t"/><line x1="537" y1="2425" x2="640" y2="2425" class="t"/>
<line x1="637" y1="2357" x2="637" y2="2425" class="dm"/><text transform="translate(634,2397) rotate(-90)" class="tx">25</text>
<line x1="550" y1="2348" x2="670" y2="2348" class="t"/><line x1="550" y1="2433" x2="670" y2="2433" class="t"/>
<line x1="666" y1="2348" x2="666" y2="2433" class="dm"/><text transform="translate(663,2397) rotate(-90)" class="tx">32</text>
<line x1="501" y1="2305" x2="704" y2="2305" class="t"/><line x1="501" y1="2475" x2="704" y2="2475" class="t"/>
<line x1="700" y1="2305" x2="700" y2="2475" class="dm"/><text transform="translate(697,2398) rotate(-90)" class="tx">ф64</text>
<line x1="507" y1="2299" x2="737" y2="2299" class="t"/><line x1="507" y1="2483" x2="737" y2="2483" class="t"/>
<line x1="733" y1="2299" x2="733" y2="2483" class="dm"/><text transform="translate(730,2396) rotate(-90)" class="tx">69</text>
<line x1="537" y1="2357" x2="569" y2="2320" class="t"/><line x1="569" y1="2320" x2="635" y2="2320" class="t"/>
<text x="578" y="2316" class="tx">4*M3-10(深)</text>
<line x1="530" y1="2355" x2="390" y2="2466" class="t"/><line x1="365" y1="2466" x2="390" y2="2466" class="t"/>
<text x="366" y="2463" class="tx">ф27</text>
<line x1="460" y1="2472" x2="382" y2="2508" class="t"/>
<text transform="translate(385,2512) rotate(-25)" class="tx">4*R1.6</text>
</g>
</svg>
</body></html>
